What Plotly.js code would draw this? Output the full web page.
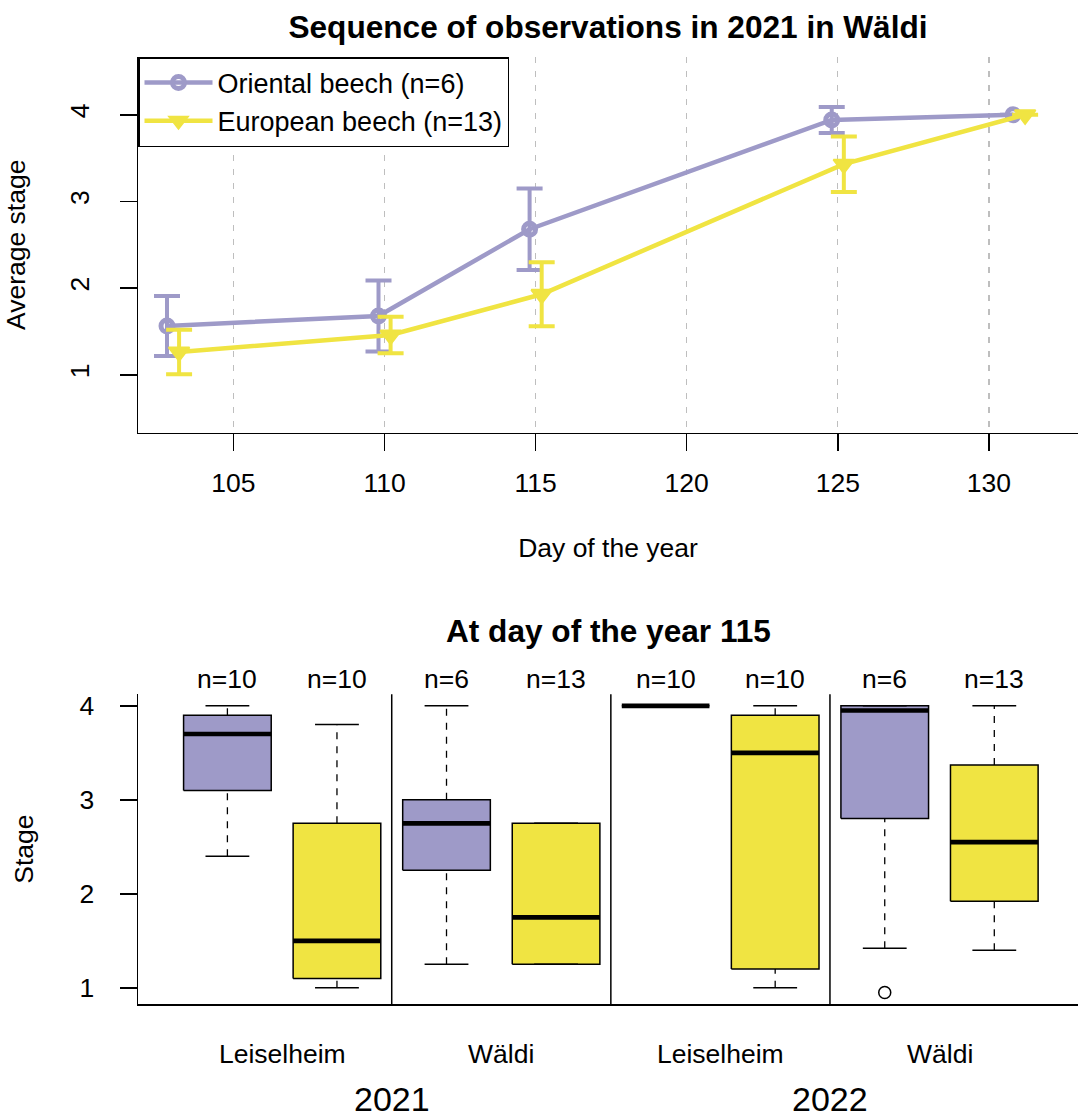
<!DOCTYPE html>
<html>
<head>
<meta charset="utf-8">
<script src="https://cdn.plot.ly/plotly-3.0.1.min.js"></script>
<style>
  html, body { margin: 0; padding: 0; background: #ffffff; }
  #chart { width: 1078px; height: 1118px; }
</style>
</head>
<body>
<div id="chart"></div>
<script>
// ---------- Data: top panel (sequence of observations, Wäldi 2021) ----------
const days = [103, 110, 115, 125, 131];
const orientalMean = [1.565, 1.68, 2.68, 3.94, 4.0];
const orientalErr  = [0.346, 0.41, 0.47, 0.15, null];
const europeanMean = [1.265, 1.46, 1.93, 3.43, 4.0];
const europeanErr  = [0.256, 0.21, 0.37, 0.32, null];
const seriesNames = ['Oriental beech (n=6)', 'European beech (n=13)'];
const xTicks = [105, 110, 115, 120, 125, 130];
const yTicksTop = [1, 2, 3, 4];

// ---------- Data: bottom panel (day of the year 115) ----------
const boxSites   = ['Leiselheim', 'Leiselheim', 'Wäldi', 'Wäldi', 'Leiselheim', 'Leiselheim', 'Wäldi', 'Wäldi'];
const boxYears   = ['2021', '2021', '2021', '2021', '2022', '2022', '2022', '2022'];
const boxSpecies = ['Oriental', 'European', 'Oriental', 'European', 'Oriental', 'European', 'Oriental', 'European'];
const boxN       = [10, 10, 6, 13, 10, 10, 6, 13];
const boxLow     = [2.4, 1.0, 1.25, 1.25, 4.0, 1.0, 1.42, 1.4];
const boxQ1      = [3.1, 1.1, 2.25, 1.25, 4.0, 1.2, 2.8, 1.92];
const boxMed     = [3.7, 1.5, 2.75, 1.75, 4.0, 3.5, 3.95, 2.55];
const boxQ3      = [3.9, 2.75, 3.0, 2.75, 4.0, 3.9, 4.0, 3.37];
const boxHigh    = [4.0, 3.8, 4.0, 2.75, 4.0, 4.0, 4.0, 4.0];
const boxOutliers = [[], [], [], [], [], [], [0.95], []];
const yTicksBottom = [1, 2, 3, 4];

// ---------- Styles ----------
const PURPLE = '#9E9AC8';
const YELLOW = '#F0E442';
const FONT = 'Liberation Sans, Arial, Helvetica, sans-serif';
const FS = 26.5;
const DODGE = 0.2;
const BOX_HALF = 0.4;
const CAP_HALF = 0.2;
const speciesColor = { Oriental: PURPLE, European: YELLOW };

const traces = [];

// Top panel series
traces.push({
  type: 'scatter', mode: 'lines+markers', name: seriesNames[0],
  x: days.map(d => d - DODGE), y: orientalMean,
  xaxis: 'x', yaxis: 'y',
  line: { color: PURPLE, width: 4.5 },
  marker: { symbol: 'circle-open', size: 12, color: PURPLE, line: { color: PURPLE, width: 5 } },
  error_y: { type: 'data', array: orientalErr, symmetric: true, color: PURPLE, thickness: 4, width: 13, visible: true }
});
traces.push({
  type: 'scatter', mode: 'lines+markers', name: seriesNames[1],
  x: days.map(d => d + DODGE), y: europeanMean,
  xaxis: 'x', yaxis: 'y',
  line: { color: YELLOW, width: 4.5 },
  marker: { symbol: 'triangle-down', size: 18, color: YELLOW, line: { color: YELLOW, width: 2 } },
  error_y: { type: 'data', array: europeanErr, symmetric: true, color: YELLOW, thickness: 4, width: 13, visible: true }
});

// Bottom panel boxplots built from the summary arrays
const medX = [], medY = [], whX = [], whY = [], capX = [], capY = [], outX = [], outY = [];
boxMed.forEach((m, k) => {
  const p = k + 1;
  traces.push({
    type: 'scatter', mode: 'lines', showlegend: false, hoverinfo: 'skip',
    xaxis: 'x2', yaxis: 'y2',
    x: [p - BOX_HALF, p + BOX_HALF, p + BOX_HALF, p - BOX_HALF, p - BOX_HALF],
    y: [boxQ1[k], boxQ1[k], boxQ3[k], boxQ3[k], boxQ1[k]],
    fill: 'toself', fillcolor: speciesColor[boxSpecies[k]],
    line: { color: '#000000', width: 1.5 }
  });
  medX.push(p - BOX_HALF, p + BOX_HALF, null); medY.push(m, m, null);
  whX.push(p, p, null, p, p, null); whY.push(boxQ3[k], boxHigh[k], null, boxLow[k], boxQ1[k], null);
  capX.push(p - CAP_HALF, p + CAP_HALF, null, p - CAP_HALF, p + CAP_HALF, null);
  capY.push(boxHigh[k], boxHigh[k], null, boxLow[k], boxLow[k], null);
  boxOutliers[k].forEach(v => { outX.push(p); outY.push(v); });
});
traces.push({ type: 'scatter', mode: 'lines', showlegend: false, hoverinfo: 'skip', xaxis: 'x2', yaxis: 'y2',
  x: whX, y: whY, line: { color: '#000000', width: 1.3, dash: '7px,7px' } });
traces.push({ type: 'scatter', mode: 'lines', showlegend: false, hoverinfo: 'skip', xaxis: 'x2', yaxis: 'y2',
  x: capX, y: capY, line: { color: '#000000', width: 1.5 } });
traces.push({ type: 'scatter', mode: 'lines', showlegend: false, hoverinfo: 'skip', xaxis: 'x2', yaxis: 'y2',
  x: medX, y: medY, line: { color: '#000000', width: 4.7 } });
traces.push({ type: 'scatter', mode: 'markers', showlegend: false, hoverinfo: 'skip', xaxis: 'x2', yaxis: 'y2',
  x: outX, y: outY, marker: { symbol: 'circle-open', size: 12, color: '#000000', line: { color: '#000000', width: 1.5 } } });

// Annotations
const annotations = [];
boxN.forEach((n, k) => {
  annotations.push({ text: 'n=' + n, x: k + 1, xref: 'x2', y: 1, yref: 'y2 domain',
    yanchor: 'middle', yshift: 15.5, showarrow: false, font: { family: FONT, size: FS, color: '#000' } });
});
const groupCount = boxSites.length / 2;
for (let g = 0; g < groupCount; g++) {
  annotations.push({ text: boxSites[2 * g], x: 2 * g + 1.5, xref: 'x2', y: 0, yref: 'y2 domain',
    yanchor: 'middle', yshift: -50, showarrow: false, font: { family: FONT, size: FS, color: '#000' } });
}
const yearList = [...new Set(boxYears)];
yearList.forEach((yr, j) => {
  annotations.push({ text: yr, x: 4 * j + 2.5, xref: 'x2', y: 0, yref: 'y2 domain',
    yanchor: 'middle', yshift: -95, showarrow: false, font: { family: FONT, size: 34, color: '#000' } });
});
annotations.push({ text: '<b>At day of the year 115</b>', x: 0.5, xref: 'paper', y: 1, yref: 'y2 domain',
  yanchor: 'middle', yshift: 63.5, showarrow: false, font: { family: FONT, size: 31.6, color: '#000' } });

// Separators between site groups
const shapes = [];
for (let g = 1; g < groupCount; g++) {
  shapes.push({ type: 'line', xref: 'x2', yref: 'y2 domain', x0: 2 * g + 0.5, x1: 2 * g + 0.5, y0: 0, y1: 1,
    line: { color: '#000000', width: 1.5 } });
}

const axisCommon = {
  showline: true, linecolor: '#000000', linewidth: 1.5, mirror: false, zeroline: false,
  ticks: 'outside', ticklen: 17, tickwidth: 1.5, tickcolor: '#000000',
  tickfont: { family: FONT, size: FS, color: '#000' }, automargin: false
};

const layout = {
  width: 1078, height: 1118,
  margin: { l: 138, r: 0, t: 57, b: 114 },
  paper_bgcolor: '#ffffff', plot_bgcolor: '#ffffff',
  font: { family: FONT, size: FS, color: '#000' },
  title: { text: '<b>Sequence of observations in 2021 in Wäldi</b>', x: 0.5, xref: 'paper',
    y: 1 - 27 / 1118, yref: 'container', yanchor: 'middle', font: { family: FONT, size: 31.6, color: '#000' } },
  showlegend: true,
  legend: { x: 0, y: 1, xanchor: 'left', yanchor: 'top', bgcolor: '#ffffff', bordercolor: '#000000', borderwidth: 1.5,
    font: { family: FONT, size: 27, color: '#000' }, itemwidth: 68, tracegroupgap: 0 },
  xaxis: Object.assign({}, axisCommon, {
    domain: [0, 1], anchor: 'y', range: [101.84, 132.95], tickvals: xTicks,
    showgrid: true, gridcolor: '#BEBEBE', gridwidth: 1.3, griddash: '6px,8px', ticklabelstandoff: 9,
    title: { text: 'Day of the year', font: { family: FONT, size: FS, color: '#000' }, standoff: 41 }
  }),
  yaxis: Object.assign({}, axisCommon, {
    domain: [0.6033, 1], anchor: 'x', range: [0.334, 4.666], tickvals: yTicksTop, tickangle: -90,
    showgrid: false, ticklabelstandoff: 20,
    title: { text: 'Average stage', font: { family: FONT, size: FS, color: '#000' }, standoff: 31 }
  }),
  xaxis2: Object.assign({}, axisCommon, {
    domain: [0, 1], anchor: 'y2', range: [0.184, 8.764], ticks: '', showticklabels: false, showgrid: false
  }),
  yaxis2: Object.assign({}, axisCommon, {
    domain: [0, 0.327], anchor: 'x2', range: [0.828, 4.122], tickvals: yTicksBottom, tickangle: 0,
    showgrid: false, ticklabelstandoff: 20,
    title: { text: 'Stage', font: { family: FONT, size: FS, color: '#000' }, standoff: 38 }
  }),
  annotations: annotations,
  shapes: shapes
};

Plotly.newPlot('chart', traces, layout, { displayModeBar: false, staticPlot: true });
</script>
</body>
</html>
